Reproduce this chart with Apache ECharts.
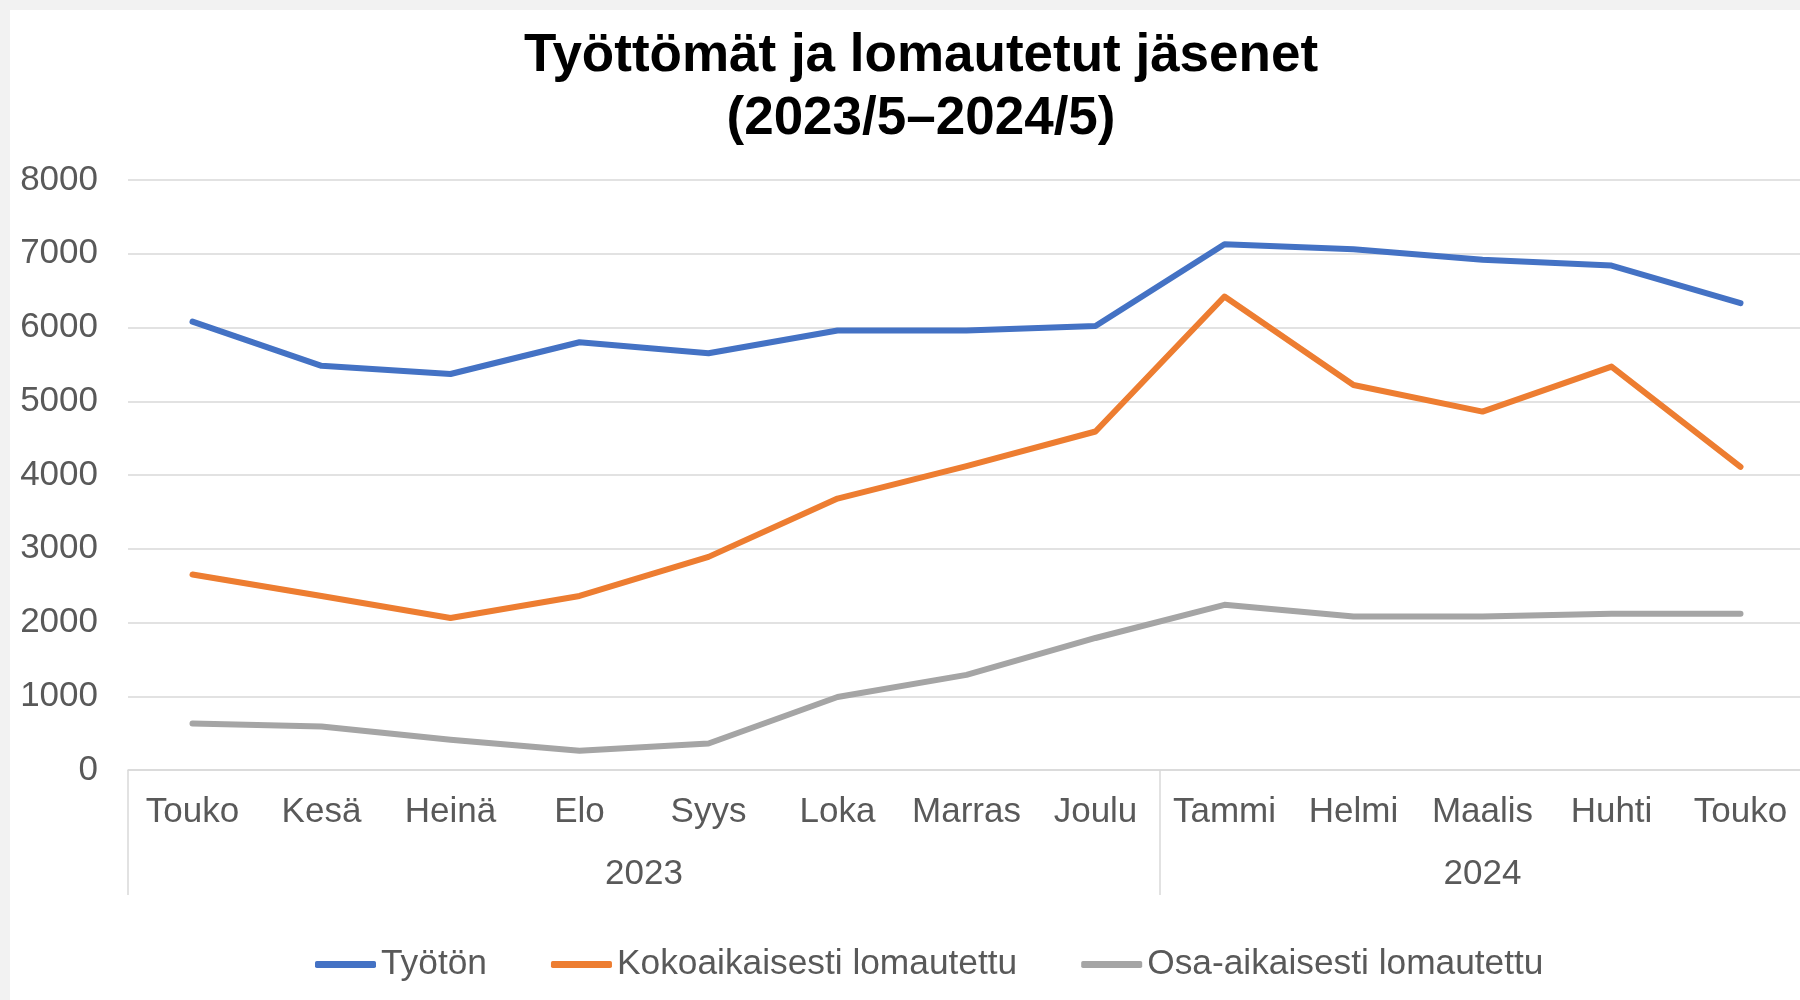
<!DOCTYPE html>
<html>
<head>
<meta charset="utf-8">
<script src="https://cdn.jsdelivr.net/npm/echarts@6/dist/echarts.min.js"></script>
<style>
  html, body { margin: 0; background: #f2f2f2; overflow: hidden; }
  #main { position: absolute; left: 10px; top: 10px; width: 1800px; height: 990px; background: #fff; }
</style>
</head>
<body>
<div id="main"></div>
<script>
// kuukaudet ja vuodet
var months = ["Touko", "Kesä", "Heinä", "Elo", "Syys", "Loka", "Marras", "Joulu",
  "Tammi", "Helmi", "Maalis", "Huhti", "Touko"];
var years = ["2023", "2024"];
var yearMonths = [8, 5];

// luvut kuvasta luettuna
var tyoton = [6080, 5480, 5370, 5800, 5650, 5960, 5960, 6020, 7130, 7060, 6920, 6840, 6330];
var kokoaikaisesti = [2650, 2360, 2060, 2360, 2890, 3680, 4120, 4590, 6420, 5220, 4860, 5470, 4110];
var osaaikaisesti = [630, 590, 410, 260, 360, 990, 1290, 1790, 2240, 2080, 2080, 2120, 2120];

var font = "'Liberation Sans', Arial, sans-serif";
var gray = "#595959";
var lineGray = "#d9d9d9";

// vuosirajat ja vuosien keskikohdat
var bounds = [0];
var yearCenter = {};
yearMonths.forEach(function (n, i) {
  var start = bounds[bounds.length - 1];
  bounds.push(start + n);
  yearCenter[String(start + n / 2)] = years[i];
});

var myChart = echarts.init(document.getElementById("main"));

var option = {
  animation: false,
  title: {
    text: "Työttömät ja lomautetut jäsenet\n(2023/5–2024/5)",
    left: 906,
    top: 10,
    textAlign: "center",
    textStyle: {
      fontFamily: font,
      fontSize: 53,
      fontWeight: "bold",
      color: "#000",
      lineHeight: 63,
    },
  },
  legend: {
    left: 300,
    top: 932,
    icon: "roundRect",
    itemWidth: 61,
    itemHeight: 7,
    itemGap: 64,
    textStyle: { fontFamily: font, fontSize: 35.3, color: gray },
    data: ["Työtön", "Kokoaikaisesti lomautettu", "Osa-aikaisesti lomautettu"],
  },
  grid: {
    left: 118,
    top: 170,
    width: 1677,
    height: 590,
  },
  xAxis: [
    {
      type: "category",
      data: months,
      boundaryGap: true,
      axisLine: { lineStyle: { color: lineGray, width: 1.5 } },
      axisTick: {
        show: true,
        length: 125,
        interval: function (index) {
          return bounds.indexOf(index) >= 0;
        },
        lineStyle: { color: lineGray, width: 1.5 },
      },
      axisLabel: {
        interval: 0,
        margin: 25,
        fontFamily: font,
        fontSize: 35,
        color: gray,
      },
    },
    {
      type: "value",
      position: "bottom",
      min: 0,
      max: months.length,
      interval: 0.5,
      axisLine: { show: false },
      axisTick: { show: false },
      splitLine: { show: false },
      axisLabel: {
        margin: 87,
        fontFamily: font,
        fontSize: 35,
        color: gray,
        formatter: function (v) {
          return yearCenter[String(v)] || "";
        },
      },
    },
  ],
  yAxis: {
    type: "value",
    min: 0,
    max: 8000,
    interval: 1000,
    axisLine: { show: false },
    axisTick: { show: false },
    splitLine: { lineStyle: { color: lineGray, width: 1.5 } },
    axisLabel: {
      margin: 30,
      fontFamily: font,
      fontSize: 35,
      color: gray,
      formatter: function (v) {
        return String(v);
      },
    },
  },
  series: [
    {
      name: "Työtön",
      type: "line",
      data: tyoton,
      symbol: "none",
      color: "#4472C4",
      lineStyle: { width: 6, cap: "round", join: "round" },
    },
    {
      name: "Kokoaikaisesti lomautettu",
      type: "line",
      data: kokoaikaisesti,
      symbol: "none",
      color: "#ED7D31",
      lineStyle: { width: 6, cap: "round", join: "round" },
    },
    {
      name: "Osa-aikaisesti lomautettu",
      type: "line",
      data: osaaikaisesti,
      symbol: "none",
      color: "#A5A5A5",
      lineStyle: { width: 6, cap: "round", join: "round" },
    },
  ],
};
myChart.setOption(option);
</script>
</body>
</html>
